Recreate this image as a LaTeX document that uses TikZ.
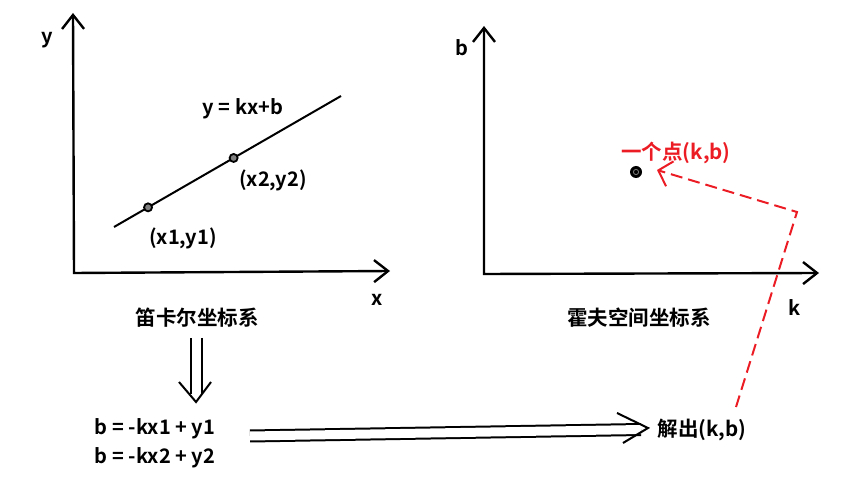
\documentclass[tikz,border=0pt]{standalone}
\usepackage{fontspec}
\setmainfont{Noto Sans CJK SC Bold}
\usetikzlibrary{arrows.meta,calc}
\definecolor{hotred}{RGB}{236,28,36}
\tikzset{
  axis/.style={line width=2.4pt, {Straight Barb[length=14pt,width=22pt]}-{Straight Barb[length=14pt,width=22pt]}},
  lbl/.style={inner sep=1pt, font=\fontsize{20}{23}\selectfont},
  title/.style={inner sep=1pt, font=\fontsize{20.5}{23}\selectfont},
  ptmark/.style={circle, draw, fill=gray, line width=1.8pt, inner sep=0pt, minimum size=8pt},
  dbl/.style={line width=2pt, double, double distance=9pt},
  head/.style={line width=2pt},
}
\begin{document}
\begin{tikzpicture}[x=1pt,y=-1pt]
    \useasboundingbox (0,0) rectangle (860,478);
    % Cartesian axes
    \coordinate (O1) at (74,273);
    \coordinate (ytop) at (73,13);
    \coordinate (xend) at (390,271);
    \draw[axis] (ytop) -- (O1) -- (xend);
    \node[lbl] (ylab) at (47,40) {y};
    \node[lbl] (xlab) at (377,300) {x};
    % line and its two points
    \coordinate (L1) at (114,227);
    \coordinate (L2) at (341,96);
    \draw[line width=2pt] (L1) -- (L2);
    \node[ptmark] (p1) at ($(L1)!0.15!(L2)$) {};
    \node[ptmark] (p2) at ($(L1)!0.527!(L2)$) {};
    \node[lbl] (line) at (243,109) {y = kx+b};
    \node[lbl] (p2lab) at (273,180) {(x2,y2)};
    \node[lbl] (p1lab) at (183,238) {(x1,y1)};
    \node[title] (cart) at (197,318) {笛卡尔坐标系};
    % Hough axes
    \coordinate (O2) at (484,274);
    \coordinate (btop) at (484,26);
    \coordinate (kend) at (819,273);
    \draw[axis] (btop) -- (O2) -- (kend);
    \node[lbl] (blab) at (462,48) {b};
    \node[lbl] (klab) at (795,308) {k};
    \node[title] (hough) at (639,318) {霍夫空间坐标系};
    % the point (k,b)
    \fill (636,172) circle (6pt);
    \draw[gray, line width=0.8pt] (636,172) circle (2.6pt);
    \coordinate (kb) at (636,172);
    \node[title, text=hotred] (kblab) at (676,153) {一个点(k,b)};
    % equations
    \node[lbl] (eq1) at (155,429) {b = -kx1 + y1};
    \node[lbl] (eq2) at (155,458) {b = -kx2 + y2};
    \node[title] (solve) at (702,430) {解出(k,b)};
    % double arrow down
    \coordinate (dtip) at (196,402);
    \draw[dbl] (196.5,338) -- (196.5,394);
    \draw[head] (179,382) -- (dtip) -- (211,382);
    % double arrow right
    \coordinate (rtip) at (648,428);
    \draw[dbl] (250,436) -- (641,429.5);
    \draw[head] (617,413) -- (rtip) -- (623,443);
    % red dashed connector
    \coordinate (bend) at (797,212);
    \coordinate (rstart) at (736,407);
    \coordinate (ktip) at (657,170);
    \draw[hotred, line width=2pt, dash pattern=on 12pt off 6pt, -{Straight Barb[length=12pt,width=26pt]}] (rstart) -- (bend) -- (ktip);
\end{tikzpicture}
\end{document}
